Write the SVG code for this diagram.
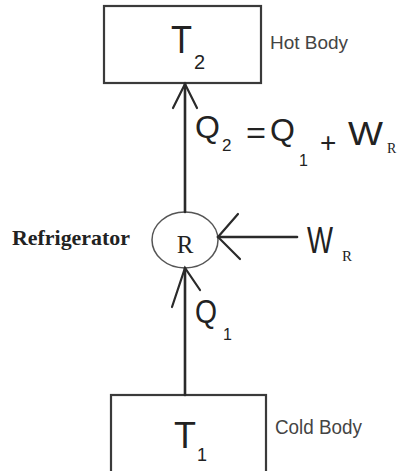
<svg xmlns="http://www.w3.org/2000/svg" width="398" height="471" viewBox="0 0 398 471">
<style>
.box{fill:#fff;stroke:#3a3a3a;stroke-width:2.2}
.ln{fill:none;stroke:#2a2a2a;stroke-width:2.6;stroke-linecap:round}
.ah{fill:none;stroke:#2a2a2a;stroke-width:2.2;stroke-linecap:round}
.s{font-family:"Liberation Sans",Arial,sans-serif;fill:#222}
.lab{font-family:"Liberation Sans",Arial,sans-serif;fill:#444}
.sr{font-family:"Liberation Serif","Times New Roman",serif;fill:#222}
</style>
<rect width="398" height="471" fill="#fff"/>
<g id="hot">
<rect class="box" x="104" y="6" width="157" height="77"/>
<text class="s" x="171" y="53" font-size="38" textLength="21" lengthAdjust="spacingAndGlyphs">T</text>
<text class="s" x="194" y="69" font-size="20">2</text>
<text class="lab" x="270" y="49" font-size="19" textLength="78" lengthAdjust="spacingAndGlyphs">Hot Body</text>
</g>
<g id="cold">
<rect class="box" x="111" y="395" width="155" height="90"/>
<text class="s" x="174" y="448" font-size="37" textLength="22" lengthAdjust="spacingAndGlyphs">T</text>
<text class="s" x="197" y="461" font-size="18">1</text>
<text class="lab" x="275" y="434" font-size="20" textLength="87" lengthAdjust="spacingAndGlyphs">Cold Body</text>
</g>
<g id="refrigerator">
<ellipse cx="185" cy="240" rx="33" ry="28" fill="#fff" stroke="#555" stroke-width="1.5"/>
<text class="sr" x="185" y="253" font-size="25" text-anchor="middle">R</text>
<text class="sr" x="12" y="245" font-size="22" font-weight="bold" textLength="118" lengthAdjust="spacingAndGlyphs">Refrigerator</text>
</g>
<g id="connectors">
<line class="ln" x1="185" y1="84" x2="185" y2="212"/>
<path class="ah" d="M173,108 L185,84 L197,108"/>
<line class="ln" x1="185" y1="268" x2="185" y2="395"/>
<path class="ah" d="M172,307 L185,268 L200,290"/>
<line class="ln" x1="218" y1="237" x2="297" y2="237"/>
<path class="ah" d="M238,214 L218,237 L240,259"/>
</g>
<g id="labels">
<text class="s" x="195" y="138" font-size="32">Q</text>
<text class="s" x="222" y="151" font-size="17">2</text>
<text class="s" x="246" y="143" font-size="30" textLength="20" lengthAdjust="spacingAndGlyphs">=</text>
<text class="s" x="270" y="141" font-size="32">Q</text>
<text class="s" x="299" y="166" font-size="16">1</text>
<text class="s" x="320" y="152" font-size="28">+</text>
<text class="s" x="348" y="145" font-size="33" textLength="35" lengthAdjust="spacingAndGlyphs">W</text>
<text class="sr" x="387" y="153" font-size="14">R</text>
<text class="s" x="307" y="253" font-size="36" textLength="26" lengthAdjust="spacingAndGlyphs">W</text>
<text class="sr" x="342" y="261" font-size="15">R</text>
<text class="s" x="195" y="323" font-size="33" textLength="22" lengthAdjust="spacingAndGlyphs">Q</text>
<text class="s" x="223" y="340" font-size="16">1</text>
</g>
</svg>
